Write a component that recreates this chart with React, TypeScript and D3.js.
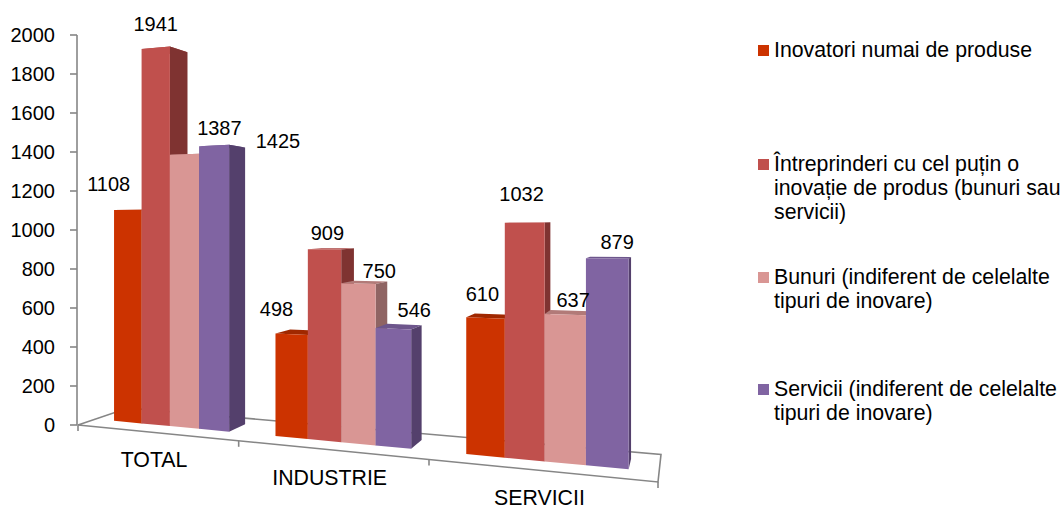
import React from 'react';
import * as d3 from 'd3';

const categories = ['TOTAL', 'INDUSTRIE', 'SERVICII'];
const seriesNames = ['Inovatori', 'Intreprinderi', 'Bunuri', 'Servicii'];

const inovatori = [1108, 498, 610];
const intreprinderi = [1941, 909, 1032];
const bunuri = [1387, 750, 637];
const servicii = [1425, 546, 879];
const seriesValues = [inovatori, intreprinderi, bunuri, servicii];

const yTicks = [0, 200, 400, 600, 800, 1000, 1200, 1400, 1600, 1800, 2000];

const legendLines = [
  ['Inovatori numai de produse'],
  ['Întreprinderi cu cel puțin o', 'inovație de produs (bunuri sau', 'servicii)'],
  ['Bunuri (indiferent de celelalte', 'tipuri de inovare)'],
  ['Servicii (indiferent de celelalte', 'tipuri de inovare)'],
];
const legendTop = [50, 164, 277, 389];

const frontColors = ['#cc3300', '#c0504d', '#d99694', '#8064a2'];
const topColors = ['#a02800', '#a84643', '#b27a78', '#6d568c'];
const sideColors = ['#8a2300', '#7f3331', '#8f6463', '#54406c'];

// label nudges from the top of each bar's front face, by series then category
const labelNudge = [
  [[-19, -26], [-15, -25], [-3, -24]],
  [[0, -24], [3, -16], [-3, -29]],
  [[35, -26], [21, -13], [8, -15]],
  [[64, -5], [21, -19], [10, -17]],
];

const width = 1063;
const height = 508;
const font = '"Liberation Sans", Arial, sans-serif';
const axisColor = '#868686';

// floor corners on screen: front-left, front-right, back-right, back-left
const [x0, y0] = [78, 425];
const [x1, y1] = [658, 482];
const [x2, y2] = [661, 454.4];
const [x3, y3] = [128, 408];

const sx = x0 - x1 + x2 - x3;
const sy = y0 - y1 + y2 - y3;
const den = (x1 - x2) * (y3 - y2) - (x3 - x2) * (y1 - y2);
const p = (sx * (y3 - y2) - (x3 - x2) * sy) / den;
const q = ((x1 - x2) * sy - sx * (y1 - y2)) / den;

// value is lifted before the perspective divide so far bars shrink with the floor
const lift = d3.scaleLinear().domain([0, 2000]).range([0, 388]);
const yAxis = d3.scaleLinear().domain([0, 2000]).range([y0, y0 - 390]);

const project = (u: number, d: number, v = 0): [number, number] => {
  const w = 1 + p * u + q * d;
  const X = (x1 - x0 + p * x1) * u + (x3 - x0 + q * x3) * d + x0;
  // small taper to the right, the heights in the picture grow a bit slower than the floor
  const Y = (y1 - y0 + p * y1) * u + (y3 - y0 + q * y3) * d + y0 - lift(v) * (1 - 0.005 * u);
  return [X / w, Y / w];
};

const catBand = d3.scaleBand<string>().domain(categories).range([0, 1]).paddingInner(0.2712).paddingOuter(0.1259);
const serBand = d3.scaleBand<string>().domain(seriesNames).range([0, catBand.bandwidth()]);
const d0 = 0.33;
const d1 = 0.72;

const poly = (pts: [number, number][]) => d3.line()(pts) + 'Z';

const App: React.FC = () => (
  <svg width={width} height={height} style={{ position: 'absolute', left: 0, top: 0 }} fontFamily={font}>
    {/* floor */}
    <g fill="none" stroke={axisColor} strokeWidth={1.6}>
      <path d={poly([project(0, 0), project(1, 0), project(1, 1), project(0, 1)])} />
      {[0, 1 / 3, 2 / 3, 1].map((u) => {
        const [x, y] = project(u, 0);
        return <line key={u} x1={x} x2={x} y1={y} y2={y + 6} />;
      })}
    </g>

    {/* value axis */}
    <g stroke={axisColor} strokeWidth={1.6}>
      <line x1={x0 - 1} x2={x0 - 1} y1={yAxis(2000)} y2={yAxis(0)} />
      {yTicks.map((t) => (
        <line key={t} x1={x0 - 8} x2={x0 - 1} y1={yAxis(t)} y2={yAxis(t)} />
      ))}
    </g>
    {yTicks.map((t) => (
      <text key={t} x={55} y={yAxis(t)} dy="0.35em" textAnchor="end" fontSize={20}>{t}</text>
    ))}

    {/* bars, left to right so each front hides its neighbour's side */}
    {categories.map((cat, c) =>
      seriesNames.map((name, s) => {
        const v = seriesValues[s][c];
        const ua = catBand(cat)! + serBand(name)!;
        const ub = ua + serBand.bandwidth();
        const top = poly([project(ua, d0, v), project(ub, d0, v), project(ub, d1, v), project(ua, d1, v)]);
        const side = poly([project(ub, d0, 0), project(ub, d1, 0), project(ub, d1, v), project(ub, d0, v)]);
        const front = poly([project(ua, d0, 0), project(ub, d0, 0), project(ub, d0, v), project(ua, d0, v)]);
        return (
          <g key={cat + name}>
            <path d={top} fill={topColors[s]} />
            <path d={side} fill={sideColors[s]} />
            <path d={front} fill={frontColors[s]} />
          </g>
        );
      })
    )}

    {/* data labels */}
    {categories.map((cat, c) =>
      seriesNames.map((name, s) => {
        const v = seriesValues[s][c];
        const [x, y] = project(catBand(cat)! + serBand(name)! + serBand.bandwidth() / 2, d0, v);
        return (
          <text key={cat + name} x={x + labelNudge[s][c][0]} y={y + labelNudge[s][c][1]} dy="0.35em" textAnchor="middle" fontSize={20}>
            {v}
          </text>
        );
      })
    )}

    {/* category labels */}
    {categories.map((cat) => {
      const [x, y] = project(catBand(cat)! + catBand.bandwidth() / 2, 0);
      return (
        <text key={cat} x={x} y={y + 35} textAnchor="middle" fontSize={21.3}>{cat}</text>
      );
    })}

    {/* legend */}
    {legendLines.map((lines, i) => (
      <g key={i}>
        <rect x={758} y={legendTop[i] - 5} width={11} height={11} fill={frontColors[i]} />
        {lines.map((line, j) => (
          <text key={j} x={774} y={legendTop[i] + j * 24} dy="0.35em" fontSize={21.3}>{line}</text>
        ))}
      </g>
    ))}
  </svg>
);

export default App;
